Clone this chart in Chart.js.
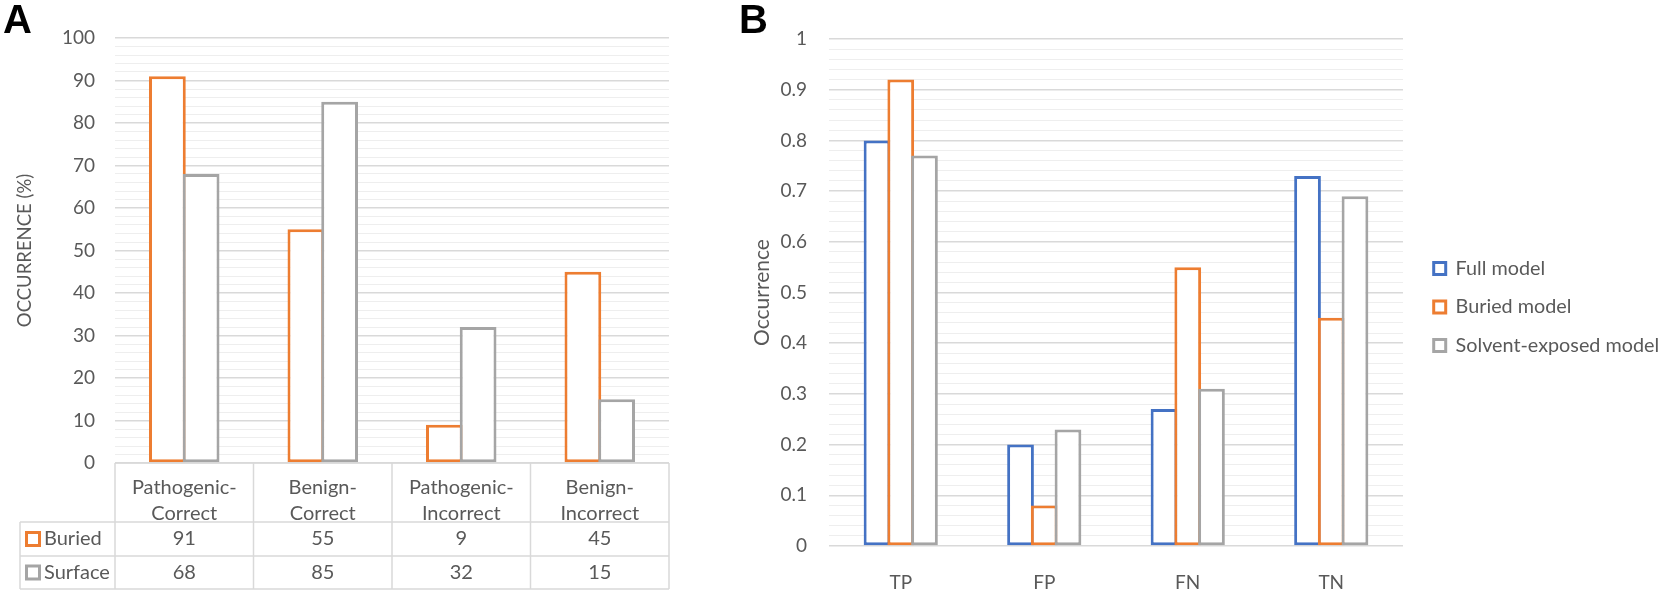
<!DOCTYPE html>
<html lang="en">
<head>
<meta charset="UTF-8">
<title>Occurrence by burial</title>
<script src="https://cdn.jsdelivr.net/npm/chart.js@4.4.0/dist/chart.umd.min.js"></script>
<style>
    body { margin: 0; background: #fff; overflow: hidden; width: 1660px; height: 593px; position: relative; }
    .panel { position: absolute; top: 0; height: 593px; }
    #panelA { left: 0; width: 690px; }
    #panelB { left: 690px; width: 990px; }
    .tag { position: absolute; top: -1px; font: bold 40px "Liberation Sans", Arial, sans-serif; line-height: 40px; color: #000; z-index: 2; }
</style>
</head>
<body>
<div class="tag" style="left:3px">A</div>
<div class="tag" style="left:739px">B</div>
<div class="panel" id="panelA"><canvas id="chartA"></canvas></div>
<div class="panel" id="panelB"><canvas id="chartB"></canvas></div>

<script>
// panel A
const catsA = ['Pathogenic-Correct', 'Benign-Correct', 'Pathogenic-Incorrect', 'Benign-Incorrect'];
const buriedA = [91, 55, 9, 45];
const surfaceA = [68, 85, 32, 15];
const yTicksA = [0, 10, 20, 30, 40, 50, 60, 70, 80, 90, 100];

// panel B
const catsB = ['TP', 'FP', 'FN', 'TN'];
const fullB = [0.8, 0.2, 0.27, 0.73];
const buriedB = [0.92, 0.08, 0.55, 0.45];
const solventB = [0.77, 0.23, 0.31, 0.69];
const yTicksB = [0, 0.1, 0.2, 0.3, 0.4, 0.5, 0.6, 0.7, 0.8, 0.9, 1];

const BLUE = '#4472c4', ORANGE = '#ed7d31', GREY = '#a5a5a5';
const TEXT = '#595959', MAJOR = '#d9d9d9', MINOR = '#eeeeee';

Chart.defaults.font.family = 'Lato, "Open Sans", sans-serif';
Chart.defaults.font.size = 19;
Chart.defaults.color = TEXT;
Chart.defaults.animation = false;

// excel paints later series over earlier ones, chart.js does the reverse
const drawInOrder = {
    id: 'drawInOrder',
    beforeDatasetsDraw(chart) {
        chart.getSortedVisibleDatasetMetas().forEach(m => m.controller.draw());
        return false;
    }
};

function bar(label, data, color, catPct, barPct) {
    return {
        label, data,
        borderColor: color, backgroundColor: '#fff', borderWidth: 3, borderSkipped: false,
        categoryPercentage: catPct, barPercentage: barPct
    };
}

function yAxis(max, step, ticks, tickSize, title, titleSize, titlePad, tickPad, width) {
    return {
        min: 0, max,
        border: { display: false },
        grid: {
            drawTicks: false,
            color: c => ticks.includes(c.tick.value) ? MAJOR : MINOR,
            lineWidth: c => ticks.includes(c.tick.value) ? 1.5 : 1
        },
        ticks: {
            stepSize: step, autoSkip: false, padding: tickPad, font: { size: tickSize },
            callback: v => ticks.includes(v) ? v : ''
        },
        title: { display: true, text: title, font: { size: titleSize }, padding: { top: titlePad, bottom: 0 } },
        afterFit: s => { s.width = width; }
    };
}

// data table under panel A (header row = x axis labels)
const dataTable = {
    id: 'dataTable',
    afterDraw(chart) {
        const { ctx, chartArea: a, scales: { x } } = chart;
        const colW = (a.right - a.left) / catsA.length;
        const rows = [a.bottom, a.bottom + 59, a.bottom + 93, a.bottom + 126];
        const left = 20;
        ctx.save();
        ctx.strokeStyle = MAJOR;
        ctx.lineWidth = 1.5;
        ctx.beginPath();
        rows.forEach((y, i) => { ctx.moveTo(i ? left : a.left, y); ctx.lineTo(a.right, y); });
        ctx.moveTo(left, rows[1]); ctx.lineTo(left, rows[3]);
        for (let i = 0; i <= catsA.length; i++) {
            ctx.moveTo(a.left + i * colW, rows[0]);
            ctx.lineTo(a.left + i * colW, rows[3]);
        }
        ctx.stroke();
        ctx.font = '20px Lato';
        ctx.textBaseline = 'middle';
        chart.data.datasets.forEach((ds, r) => {
            const cy = (rows[r + 1] + rows[r + 2]) / 2;
            ctx.lineWidth = 3;
            ctx.strokeStyle = ds.borderColor;
            ctx.fillStyle = '#fff';
            ctx.fillRect(26.5, cy - 6.5, 13, 13);
            ctx.strokeRect(26.5, cy - 6.5, 13, 13);
            ctx.fillStyle = TEXT;
            ctx.textAlign = 'left';
            ctx.fillText(ds.label, 44, cy);
            ctx.textAlign = 'center';
            ds.data.forEach((v, i) => ctx.fillText(v, x.getPixelForValue(i), cy));
        });
        ctx.restore();
    }
};

const chartA = new Chart(document.getElementById('chartA'), {
    type: 'bar',
    data: {
        labels: catsA,
        datasets: [
            bar('Buried', buriedA, ORANGE, 0.487, 1.09),
            bar('Surface', surfaceA, GREY, 0.487, 1.09)
        ]
    },
    options: {
        responsive: true,
        maintainAspectRatio: false,
        layout: { padding: { top: 38, right: 21, bottom: 0, left: 0 } },
        plugins: { legend: { display: false }, tooltip: { enabled: false } },
        scales: {
            x: {
                grid: { display: false },
                border: { display: false },
                ticks: {
                    padding: 4,
                    font: { size: 20, lineHeight: 1.3 },
                    callback: (v, i) => catsA[i].replace('-', '-\n').split('\n')
                },
                afterFit: s => { s.height = 130; }
            },
            y: yAxis(100, 2, yTicksA, 19, 'OCCURRENCE (%)', 18.5, 13.9, 20, 115)
        }
    },
    plugins: [drawInOrder, dataTable]
});

const chartB = new Chart(document.getElementById('chartB'), {
    type: 'bar',
    data: {
        labels: catsB,
        datasets: [
            bar('Full model', fullB, BLUE, 0.496, 1.127),
            bar('Buried model', buriedB, ORANGE, 0.496, 1.127),
            bar('Solvent-exposed model', solventB, GREY, 0.496, 1.127)
        ]
    },
    options: {
        responsive: true,
        maintainAspectRatio: false,
        layout: { padding: { top: 39, right: 14, bottom: 0, left: 0 } },
        plugins: {
            legend: {
                position: 'right',
                align: 'start',
                maxWidth: 320,
                // empty title only pushes the entries down
                title: { display: true, text: '', font: { size: 10 }, padding: { top: 189, bottom: 0 } },
                labels: { boxWidth: 12, boxHeight: 12, padding: 18.7, font: { size: 19.8 } }
            },
            tooltip: { enabled: false }
        },
        scales: {
            x: {
                grid: { display: false },
                border: { display: false },
                ticks: { padding: 17.6 },
                afterFit: s => { s.height = 47; }
            },
            y: yAxis(1, 0.02, yTicksB, 19, 'Occurrence', 21, 59.4, 22, 139),
            // empty strip between plot and legend
            gap: {
                type: 'linear', position: 'right',
                grid: { display: false }, border: { display: false }, ticks: { display: false },
                afterFit: s => { s.width = 12; }
            }
        }
    },
    plugins: [drawInOrder]
});

// nudge the right padding so the plot areas end where the original's do
function pinRight(chart, right) {
    const p = chart.config.options.layout.padding;
    p.right += chart.chartArea.right - right;
    chart.update();
}
pinRight(chartA, 669);
pinRight(chartB, 713);
</script>
</body>
</html>
